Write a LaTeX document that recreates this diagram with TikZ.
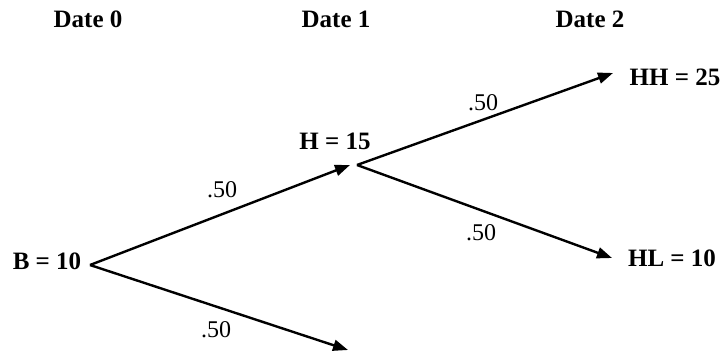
\documentclass[tikz,border=0pt]{standalone}
\usepackage{fontspec}
\setmainfont{Liberation Serif}
\usetikzlibrary{arrows.meta}
\begin{document}
\begin{tikzpicture}[x=1pt,y=-1pt,
  lbl/.style={font=\fontsize{25}{28}\selectfont\bfseries, anchor=base, inner sep=0pt},
  prob/.style={font=\fontsize{24}{28}\selectfont, anchor=base, inner sep=0pt},
  conn/.style={line width=2.4pt, -{Triangle[length=15pt,width=11pt]}},
  branch/.style={line width=2.4pt}]
\useasboundingbox (0,0) rectangle (725,353);
% date headers
\node[lbl] (d0) at (88,28) {Date 0};
\node[lbl] (d1) at (336,28) {Date 1};
\node[lbl] (d2) at (590,28) {Date 2};
% state nodes
\node[lbl] (b) at (47,269) {B = 10};
\node[lbl] (h) at (335,149) {H = 15};
\node[lbl] (hh) at (675,85) {HH = 25};
\node[lbl] (hl) at (672,266) {HL = 10};
% branch points and arrow tips
\coordinate (bv) at (90,265);
\coordinate (hv) at (357,165);
\coordinate (ht) at (350,165);
\coordinate (lt) at (348,350);
\coordinate (hht) at (613,73);
\coordinate (hlt) at (612,258);
% connectors
\draw[conn] (bv) -- (ht);
\draw[conn] (bv) -- (lt);
\draw[conn] (hv) -- (hht);
\draw[conn] (hv) -- (hlt);
% probabilities
\node[prob] (p1) at (222,197) {.50};
\node[prob] (p2) at (216,337) {.50};
\node[prob] (p3) at (483,110) {.50};
\node[prob] (p4) at (481,240) {.50};
\end{tikzpicture}
\end{document}
